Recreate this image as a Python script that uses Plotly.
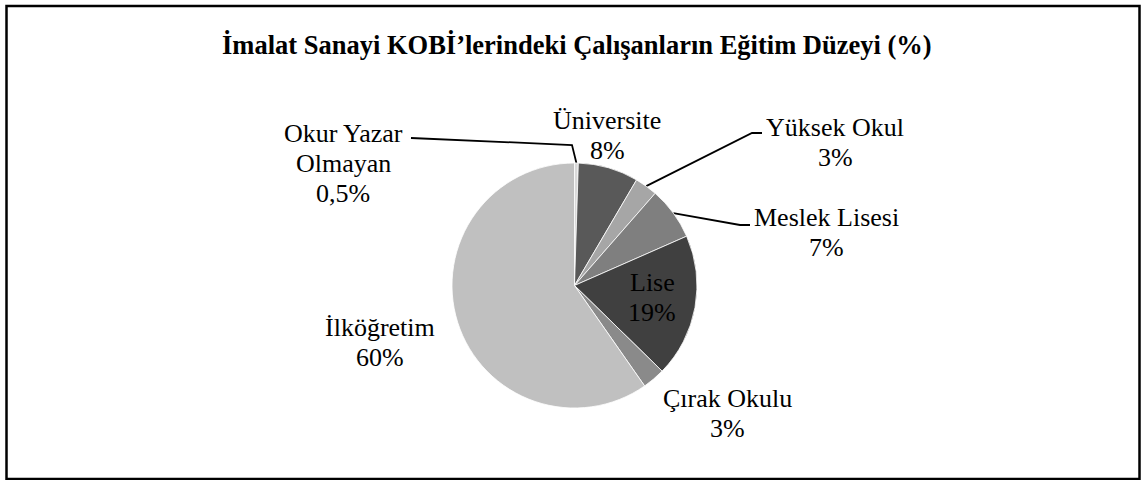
import math
import plotly.graph_objects as go

# data
labels = ["Okur Yazar Olmayan", "Üniversite", "Yüksek Okul", "Meslek Lisesi",
          "Lise", "Çırak Okulu", "İlköğretim"]
label_lines = [["Okur Yazar", "Olmayan"], ["Üniversite"], ["Yüksek Okul"],
               ["Meslek Lisesi"], ["Lise"], ["Çırak Okulu"], ["İlköğretim"]]
values = [0.5, 8, 3, 7, 19, 3, 60]
pct_text = ["0,5%", "8%", "3%", "7%", "19%", "3%", "60%"]
colors = ["#d9d9d9", "#595959", "#a6a6a6", "#7f7f7f", "#404040", "#8a8a8a", "#c0c0c0"]

W, H = 1141, 480
cx, cy, r = 574.5, 285.5, 122.5

# label placement (pixels, center x / first line y) and leader elbows
label_pos = [(343, 133), (607, 120), (835, 127), (826, 217), (652, 282), (727, 398), (380, 327)]
leaders = {0: [(572, 145), (411, 138)], 2: [(752, 133), (762, 133)], 3: [(740, 225), (750, 225)]}
line_gap = 30
font_family = "Liberation Serif, Times New Roman, serif"


def px(x):
    return x / W


def py(y):
    return (H - y) / H


fig = go.Figure()
fig.add_trace(go.Pie(
    labels=labels, values=values, sort=False, direction="clockwise", rotation=0,
    marker=dict(colors=colors, line=dict(color="white", width=0.8)),
    textinfo="none", hoverinfo="label+percent", showlegend=False,
    domain=dict(x=[px(cx - r), px(cx + r)], y=[py(cy + r), py(cy - r)]),
))

# leader lines from slice mid-angle on the rim
total = sum(values)
cum = 0
for i, v in enumerate(values):
    mid = (cum + v / 2) / total * 2 * math.pi
    cum += v
    if i in leaders:
        ex = cx + r * math.sin(mid)
        ey = cy - r * math.cos(mid)
        pts = [(ex, ey)] + leaders[i]
        fig.add_trace(go.Scatter(
            x=[p[0] for p in pts], y=[p[1] for p in pts], mode="lines",
            line=dict(color="black", width=1.8), hoverinfo="skip", showlegend=False,
        ))

annotations = []
for i, lines in enumerate(label_lines):
    x0, y0 = label_pos[i]
    for j, t in enumerate(lines + [pct_text[i]]):
        annotations.append(dict(
            x=x0, y=y0 + j * line_gap, xref="x", yref="y", text=t, showarrow=False,
            xanchor="center", yanchor="middle",
            font=dict(family=font_family, size=26, color="black"),
        ))

annotations.append(dict(
    x=577, y=45, xref="x", yref="y",
    text="<b>İmalat Sanayi KOBİ’lerindeki Çalışanların Eğitim Düzeyi (%)</b>",
    showarrow=False, xanchor="center", yanchor="middle",
    font=dict(family=font_family, size=26.5, color="black"),
))

fig.update_layout(
    width=W, height=H,
    margin=dict(l=0, r=0, t=0, b=0),
    paper_bgcolor="white", plot_bgcolor="rgba(0,0,0,0)",
    xaxis=dict(range=[0, W], visible=False, fixedrange=True),
    yaxis=dict(range=[H, 0], visible=False, fixedrange=True),
    annotations=annotations,
    shapes=[dict(type="rect", xref="paper", yref="paper",
                 x0=px(6.5), y0=py(6), x1=px(1139.5), y1=py(479),
                 line=dict(color="black", width=2.5), layer="above")],
)

# drop the default 8px body margin so the figure fills the page
fig.write_html("out.html", config={"displayModeBar": False},
               post_script="document.body.style.margin='0';document.body.style.overflow='hidden';")
